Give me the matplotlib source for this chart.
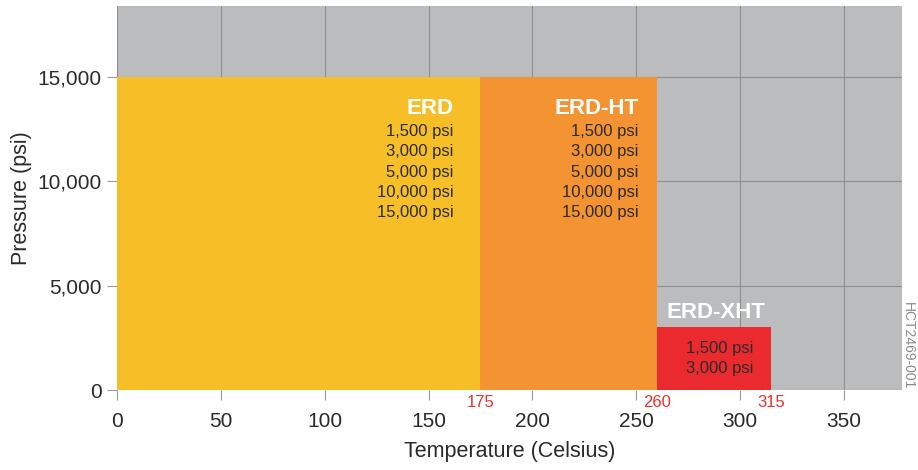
import matplotlib
matplotlib.use("Agg")
import matplotlib.pyplot as plt

plt.rcParams["font.family"] = ["Liberation Sans", "DejaVu Sans"]

# rating bands: temperature range (Celsius) and max pressure (psi)
names = ["ERD", "ERD-HT", "ERD-XHT"]
t_start = [0, 175, 260]
t_end = [175, 260, 315]
p_max = [15000, 15000, 3000]
colors = ["#F7BF27", "#F39332", "#EB2A30"]
ratings = [
    ["1,500 psi", "3,000 psi", "5,000 psi", "10,000 psi", "15,000 psi"],
    ["1,500 psi", "3,000 psi", "5,000 psi", "10,000 psi", "15,000 psi"],
    ["1,500 psi", "3,000 psi"],
]
x_ticks = [0, 50, 100, 150, 200, 250, 300, 350]
y_ticks = [0, 5000, 10000, 15000]
y_ticklabels = ["0", "5,000", "10,000", "15,000"]

fig = plt.figure(figsize=(9.18, 4.70), dpi=100)
ax = fig.add_axes([0.1275, 0.170, 0.855, 0.817])
ax.set_facecolor("#BBBCBE")
ax.set_xlim(0, 378)
ax.set_ylim(0, 18400)

widths = [e - s for s, e in zip(t_start, t_end)]
ax.bar(t_start, p_max, width=widths, align="edge", color=colors, zorder=2)

ax.set_axisbelow(True)
ax.grid(True, color="#8E8E8E", linewidth=0.8, zorder=1)
ax.set_xticks(x_ticks)
ax.set_yticks(y_ticks)
ax.set_yticklabels(y_ticklabels)
ax.tick_params(axis="both", labelsize=15, colors="#9A9A9A", labelcolor="#2A2A2A",
               length=7, width=0.8, pad=4)
ax.tick_params(axis="x", pad=9)
for s in ax.spines.values():
    s.set_visible(False)

ax.set_xlabel("Temperature (Celsius)", fontsize=15.5, color="#2A2A2A", labelpad=7)
ax.set_ylabel("Pressure (psi)", fontsize=15.5, color="#2A2A2A", labelpad=4)

# red boundary temperatures
for t in t_end:
    ax.text(t, -230, str(t), color="#E8302C", fontsize=12, ha="center", va="top",
            clip_on=False)

# band labels
line_step = 960
for i, name in enumerate(names[:2]):
    xr = t_end[i] - 13 if i == 0 else t_end[i] - 9
    ax.text(xr, 13500, name, color="white", fontsize=16, fontweight="bold",
            ha="right", va="center")
    for j, r in enumerate(ratings[i]):
        ax.text(xr, 12370 - j * line_step, r, color="#2A2A2A", fontsize=12,
                ha="right", va="center")

xc = (t_start[2] + t_end[2]) / 2
ax.text(xc + 1, 3740, names[2], color="white", fontsize=16, fontweight="bold",
        ha="center", va="center")
for j, r in enumerate(ratings[2]):
    ax.text(xc + 2.5, 2010 - j * line_step, r, color="#2A2A2A", fontsize=12,
            ha="center", va="center")

fig.text(0.989, 0.264, "HCT2469-001", rotation=-90, fontsize=10, color="#8A8A8A",
         ha="center", va="center")

fig.savefig("out.png", dpi=100)
